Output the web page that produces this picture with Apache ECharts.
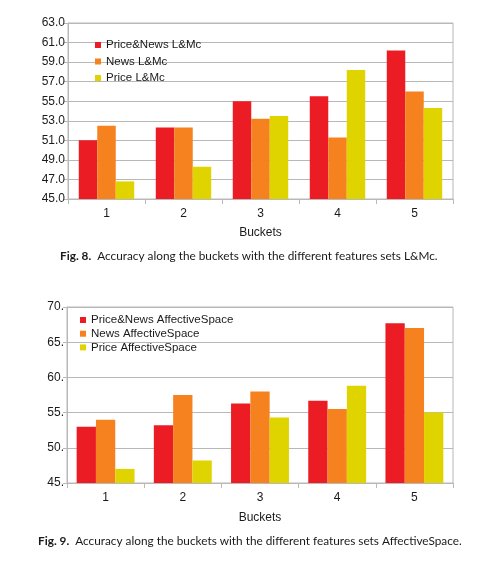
<!DOCTYPE html>
<html>
<head>
<meta charset="utf-8">
<script src="https://cdn.jsdelivr.net/npm/echarts@6/dist/echarts.min.js"></script>
<style>
html,body{margin:0;padding:0;background:#fff;}
#c{width:499px;height:565px;}
</style>
</head>
<body>
<div id="c"></div>
<script>
// ---- data ----
var buckets = ['1', '2', '3', '4', '5'];

var names1 = ['Price&News L&Mc', 'News L&Mc', 'Price L&Mc'];
var priceNewsLMc = [51.0, 52.3, 55.0, 55.5, 60.2];
var newsLMc      = [52.5, 52.3, 53.2, 51.3, 56.0];
var priceLMc     = [46.8, 48.3, 53.5, 58.2, 54.3];

var names2 = ['Price&News AffectiveSpace', 'News AffectiveSpace', 'Price AffectiveSpace'];
var priceNewsAS = [53.0, 53.2, 56.3, 56.7, 67.7];
var newsAS      = [54.0, 57.5, 58.0, 55.5, 67.0];
var priceAS     = [47.0, 48.2, 54.3, 58.8, 55.0];

var caption1 = 'Accuracy along the buckets with the different features sets L&Mc.';
var caption2 = 'Accuracy along the buckets with the different features sets AffectiveSpace.';

var colors = ['#ec1c24', '#f5821f', '#e0d400'];
var gridGray = '#b8b8b8';
var txt = '#1a1a1a';
var sans = '"Liberation Sans", Arial, sans-serif';

function xAx(gi) {
  return {
    type: 'category', gridIndex: gi, data: buckets,
    name: 'Buckets', nameLocation: 'middle', nameGap: gi === 0 ? 28 : 29,
    nameTextStyle: { fontFamily: sans, fontSize: 12, color: txt },
    axisLine: { lineStyle: { color: gridGray } },
    axisTick: { show: true, length: 5, lineStyle: { color: gridGray } },
    axisLabel: { fontFamily: sans, fontSize: 12, color: txt, margin: 9 }
  };
}
function yAx(gi, min, max, interval, fmt) {
  return {
    type: 'value', gridIndex: gi, min: min, max: max, interval: interval,
    axisLine: { show: true, lineStyle: { color: gridGray } },
    axisTick: { show: true, length: 4, lineStyle: { color: gridGray } },
    splitLine: { lineStyle: { color: gridGray, width: 1 } },
    axisLabel: { fontFamily: sans, fontSize: 12, color: txt, margin: 3, formatter: fmt }
  };
}
function bars(names, arrs, gi, gap) {
  return names.map(function (n, i) {
    return {
      name: n, type: 'bar', xAxisIndex: gi, yAxisIndex: gi,
      data: arrs[i], itemStyle: { color: colors[i] },
      barGap: '0%', barCategoryGap: gap, animation: false
    };
  });
}
function cap(label, text, left, top) {
  return { text: '{b|' + label + '}  ' + text, left: left, top: top, padding: 0,
    textStyle: { fontFamily: 'Lato', fontSize: 11.8, fontWeight: 'normal', color: txt,
      rich: { b: { fontFamily: 'Lato', fontSize: 11.8, fontWeight: 'bold', color: txt } } } };
}

var chart = echarts.init(document.getElementById('c'), null, { renderer: 'canvas' });
chart.setOption({
  backgroundColor: '#fff',
  animation: false,
  grid: [
    { left: 68, top: 23, width: 385, height: 176, show: true, borderColor: gridGray, borderWidth: 1 },
    { left: 67, top: 307, width: 386, height: 176, show: true, borderColor: gridGray, borderWidth: 1 }
  ],
  xAxis: [xAx(0), xAx(1)],
  yAxis: [
    yAx(0, 45, 63, 2, function (v) { return v.toFixed(1); }),
    yAx(1, 45, 70, 5, function (v) { return v + '.'; })
  ],
  legend: [
    { data: names1, orient: 'vertical', left: 95, top: 39, padding: 0, icon: 'rect', itemWidth: 6, itemHeight: 6,
      itemGap: 4.5, textStyle: { fontFamily: sans, fontSize: 11.5, color: txt, lineHeight: 12 }, selectedMode: false },
    { data: names2, orient: 'vertical', left: 80, top: 314, padding: 0, icon: 'rect', itemWidth: 6, itemHeight: 6,
      itemGap: 1.7, textStyle: { fontFamily: sans, fontSize: 11.5, color: txt, lineHeight: 12 }, selectedMode: false }
  ],
  title: [
    cap('Fig. 8.', caption1, 60, 250),
    cap('Fig. 9.', caption2, 38, 535)
  ],
  series: bars(names1, [priceNewsLMc, newsLMc, priceLMc], 0, '28%')
    .concat(bars(names2, [priceNewsAS, newsAS, priceAS], 1, '25%'))
});
</script>
</body>
</html>
